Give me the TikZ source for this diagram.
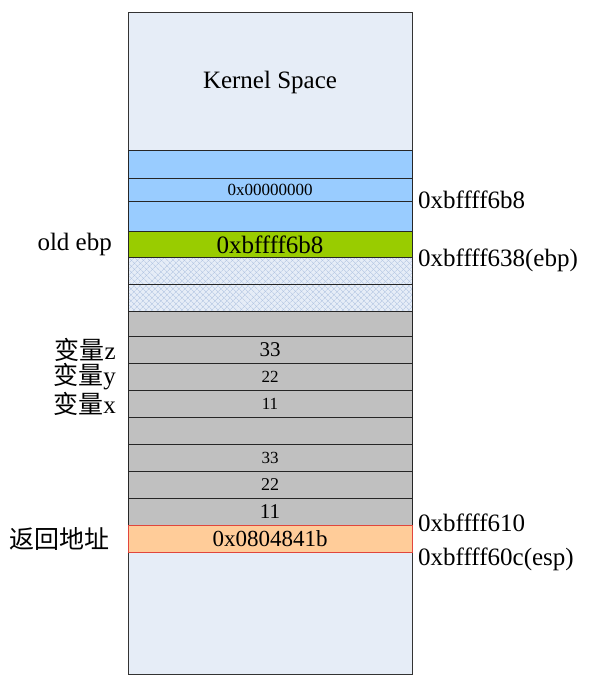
\documentclass[tikz,border=0pt]{standalone}
\usepackage{fontspec}
\setmainfont{Liberation Serif}
\newfontfamily\cjk{Noto Sans CJK SC}
\usetikzlibrary{positioning, patterns.meta}
\definecolor{stackbg}{RGB}{230,237,247}
\definecolor{frameblue}{RGB}{153,204,255}
\definecolor{ebpgreen}{RGB}{153,204,0}
\definecolor{hatchline}{RGB}{175,195,225}
\definecolor{localgrey}{RGB}{192,192,192}
\definecolor{retorange}{RGB}{255,204,153}
\definecolor{retred}{RGB}{225,70,60}
\newcommand{\fs}[1]{\fontsize{#1}{#1}\selectfont}

\begin{document}
\begin{tikzpicture}[x=1pt, y=-1pt,
  stackbox/.style={draw=black!80, line width=1pt, fill=stackbg, minimum width=284pt, minimum height=661pt, inner sep=0pt},
  cell/.style={draw=black!85, line width=0.9pt, outer sep=0pt, inner sep=0pt, minimum width=284pt, minimum height=27pt},
  bluecell/.style={cell, fill=frameblue},
  greycell/.style={cell, fill=localgrey},
  hatchcell/.style={cell,
    preaction={fill=stackbg},
    preaction={pattern={Lines[angle=45, distance=4pt, line width=0.5pt]}, pattern color=hatchline},
    preaction={pattern={Lines[angle=-45, distance=4pt, line width=0.5pt]}, pattern color=hatchline}},
  label/.style={font=\fs{25}, inner sep=0pt},
  addr/.style={font=\fs{25}, inner sep=0pt, text height=17pt, text depth=0pt},
]
  \useasboundingbox (0,0) rectangle (598,685);

  \node[stackbox] (stack) at (270,343.5) {};
  \node[label] (kernel) at (270,82) {Kernel Space};

  \node[bluecell, minimum height=28pt, below=138pt of stack.north] (b1) {};
  \node[bluecell, minimum height=23pt, below=0pt of b1, font=\fs{17}] (b2) {0x00000000};
  \node[bluecell, minimum height=30pt, below=0pt of b2] (b3) {};
  \node[cell, fill=ebpgreen, minimum height=26pt, below=0pt of b3, font=\fs{25}] (ebp) {0xbffff6b8};
  \node[hatchcell, below=0pt of ebp] (h1) {};
  \node[hatchcell, below=0pt of h1] (h2) {};
  \node[greycell, minimum height=25pt, below=0pt of h2] (g0) {};
  \node[greycell, below=0pt of g0, font=\fs{21}] (vz) {33};
  \node[greycell, below=0pt of vz, font=\fs{17}] (vy) {22};
  \node[greycell, below=0pt of vy, font=\fs{17}] (vx) {11};
  \node[greycell, below=0pt of vx] (g4) {};
  \node[greycell, below=0pt of g4, font=\fs{17}] (az) {33};
  \node[greycell, below=0pt of az, font=\fs{18}] (ay) {22};
  \node[greycell, below=0pt of ay, font=\fs{21}] (ax) {11};
  \node[cell, draw=retred, fill=retorange, below=0pt of ax, font=\fs{23}] (ret) {0x0804841b};

  \node[label, left=16pt of ebp] (oldebp) {old ebp};
  \node[label, left=12pt of vz] (lz) {{\cjk 变量}z};
  \node[label, left=12pt of vy] (ly) {{\cjk 变量}y};
  \node[label, left=12pt of vx] (lx) {{\cjk 变量}x};
  \node[label, left=18pt of ret] (lret) {\cjk 返回地址};

  \node[addr, right=6pt of b2.south east, yshift=2pt] (a6b8) {0xbffff6b8};
  \node[addr, right=6pt of ebp.south east] (a638) {0xbffff638(ebp)};
  \node[addr, right=6pt of ax.south east, yshift=3pt] (a610) {0xbffff610};
  \node[addr, right=6pt of ret.south east, yshift=-4pt] (a60c) {0xbffff60c(esp)};
\end{tikzpicture}
\end{document}
